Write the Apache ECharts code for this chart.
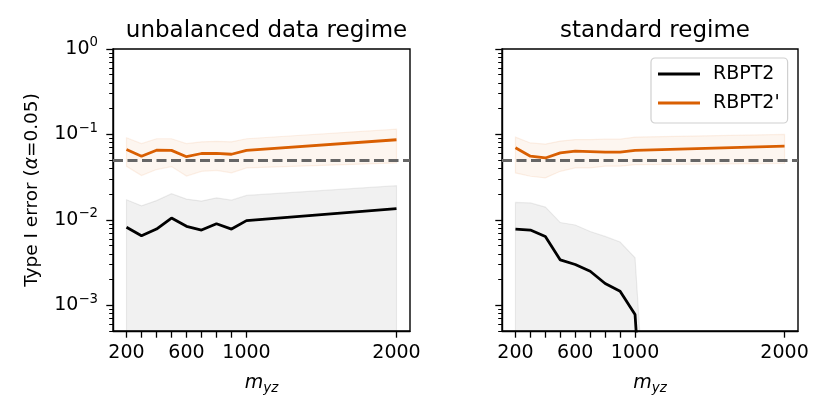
<!DOCTYPE html>
<html>
<head>
<meta charset="utf-8">
<script src="https://cdn.jsdelivr.net/npm/echarts@6/dist/echarts.min.js"></script>
<style>
  html, body { margin: 0; padding: 0; background: #fff; }
  #chart { width: 830px; height: 415px; }
</style>
</head>
<body>
<div id="chart"></div>
<script>
// m_yz sample sizes (x positions)
var mValues = [200, 300, 400, 500, 600, 700, 800, 900, 1000, 2000];
var xLabelValues = [200, 600, 1000, 2000];

// unbalanced data regime
var unbalRBPT2 = [0.0082, 0.0065, 0.0078, 0.0105, 0.0084, 0.0076, 0.009, 0.0078, 0.0098, 0.0135];
var unbalRBPT2Lo = [0, 0, 0, 0, 0, 0, 0, 0, 0, 0];
var unbalRBPT2Hi = [0.0172, 0.0146, 0.0168, 0.0202, 0.0175, 0.0166, 0.0181, 0.017, 0.0193, 0.0251];
var unbalRBPT2p = [0.0666, 0.0556, 0.0654, 0.065, 0.0548, 0.0598, 0.060, 0.0586, 0.065, 0.0866];
var unbalRBPT2pLo = [0.0423, 0.033, 0.0388, 0.042, 0.0326, 0.037, 0.038, 0.0355, 0.0405, 0.0464];
var unbalRBPT2pHi = [0.0914, 0.078, 0.089, 0.089, 0.078, 0.082, 0.083, 0.082, 0.089, 0.115];

// standard regime
var stdRBPT2 = [0.0078, 0.0076, 0.0064, 0.0034, 0.0030, 0.0025, 0.0018, 0.00146, 0.00078, 0];
var stdRBPT2Lo = [0, 0, 0, 0, 0, 0, 0, 0, 0, 0];
var stdRBPT2Hi = [0.016, 0.0158, 0.0141, 0.0093, 0.0087, 0.0073, 0.0064, 0.0055, 0.0036, 0];
var stdRBPT2p = [0.0697, 0.0556, 0.053, 0.0608, 0.0638, 0.063, 0.062, 0.062, 0.0649, 0.073];
var stdRBPT2pLo = [0.0354, 0.0324, 0.031, 0.037, 0.0405, 0.0405, 0.0425, 0.0425, 0.0443, 0.0457];
var stdRBPT2pHi = [0.093, 0.0795, 0.077, 0.0835, 0.087, 0.087, 0.088, 0.088, 0.093, 0.100];

var alphaLevel = 0.05;
var yLimits = [0.0005, 1];
var yMajorTicks = [0.001, 0.01, 0.1, 1];

var FONT = 'DejaVu Sans';
var ORANGE = '#d95f02';

// log10 with matplotlib-like clipping of non-positive values
function lg(v) { return v > 0 ? Math.log10(v) : -30; }

var yMinorTicks = [];
for (var e = -4; e < 0; e++) {
  for (var k = 2; k <= 9; k++) {
    var v = k * Math.pow(10, e);
    if (v >= yLimits[0] && v <= yLimits[1]) yMinorTicks.push(lg(v));
  }
}

function pairs(xs, ys) {
  return xs.map(function (x, i) { return [x, lg(ys[i])]; });
}

function bandSeries(name, lo, hi, fill, edge, xi, yi) {
  var rows = mValues.map(function (x, i) { return [x, lg(lo[i]), lg(hi[i])]; });
  return {
    type: 'custom',
    name: name + ' band',
    xAxisIndex: xi,
    yAxisIndex: yi,
    clip: true,
    silent: true,
    data: rows,
    encode: { x: 0, y: [1, 2] },
    z: 1,
    renderItem: function (params, api) {
      if (params.dataIndex !== 0) return;
      var pts = [];
      rows.forEach(function (r) { pts.push(api.coord([r[0], r[2]])); });
      for (var i = rows.length - 1; i >= 0; i--) pts.push(api.coord([rows[i][0], rows[i][1]]));
      return {
        type: 'polygon',
        shape: { points: pts },
        style: { fill: fill, stroke: edge, lineWidth: 1.2 }
      };
    }
  };
}

function lineSeries(name, ys, color, xi, yi, withAlpha) {
  var s = {
    type: 'line',
    name: name,
    xAxisIndex: xi,
    yAxisIndex: yi,
    data: pairs(mValues, ys),
    symbol: 'none',
    clip: true,
    z: 5,
    lineStyle: { color: color, width: 2.8 },
    itemStyle: { color: color }
  };
  if (withAlpha) {
    s.markLine = {
      silent: true,
      symbol: 'none',
      label: { show: false },
      lineStyle: { color: '#666', width: 2.9, type: [10, 4.5], opacity: 1 },
      data: [{ yAxis: lg(alphaLevel) }],
      z: 3
    };
  }
  return s;
}

var supMap = { '0': '0', '-1': '−1', '-2': '−2', '-3': '−3' };

function xAxisFor(gi) {
  return {
    type: 'value',
    gridIndex: gi,
    min: 110,
    max: 2090,
    name: '{i|m}{s|yz}',
    nameLocation: 'middle',
    nameGap: 41,
    nameTextStyle: {
      rich: {
        i: { fontFamily: FONT, fontStyle: 'italic', fontSize: 19, color: '#000' },
        s: { fontFamily: FONT, fontStyle: 'italic', fontSize: 13.5, color: '#000', padding: [9, 0, 0, 0] }
      }
    },
    splitLine: { show: false },
    axisLine: { onZero: false, lineStyle: { color: '#000', width: 1.4 } },
    axisTick: { length: 6.7, lineStyle: { color: '#000', width: 1.3 }, customValues: mValues },
    axisLabel: {
      customValues: xLabelValues,
      formatter: function (v) { return String(v); },
      color: '#000',
      fontFamily: FONT,
      fontSize: 19,
      margin: 13
    }
  };
}

function yAxesFor(gi, showLabels) {
  var major = {
    type: 'value',
    gridIndex: gi,
    min: lg(yLimits[0]),
    max: lg(yLimits[1]),
    splitLine: { show: false },
    axisLine: { lineStyle: { color: '#000', width: 1.4 } },
    axisTick: { length: 6.7, lineStyle: { color: '#000', width: 1.3 }, customValues: yMajorTicks.map(lg) },
    axisLabel: {
      show: showLabels,
      customValues: yMajorTicks.map(lg),
      margin: 15,
      formatter: function (v) {
        return '{b|10}{s|' + supMap[String(Math.round(v))] + '}';
      },
      rich: {
        b: { fontFamily: FONT, fontSize: 19, color: '#000' },
        s: { fontFamily: FONT, fontSize: 13.3, color: '#000', padding: [0, 0, 12, 0] }
      }
    }
  };
  if (showLabels) {
    major.name = '{t|Type I error (}{a|α}{t|=0.05)}';
    major.nameLocation = 'middle';
    major.nameGap = 71;
    major.nameTextStyle = {
      rich: {
        t: { fontFamily: FONT, fontSize: 18.5, color: '#000' },
        a: { fontFamily: FONT, fontStyle: 'italic', fontSize: 18.5, color: '#000' }
      }
    };
  }
  var minor = {
    type: 'value',
    gridIndex: gi,
    position: 'left',
    min: lg(yLimits[0]),
    max: lg(yLimits[1]),
    splitLine: { show: false },
    axisLine: { show: false },
    axisTick: { length: 3.8, lineStyle: { color: '#000', width: 1 }, customValues: yMinorTicks },
    axisLabel: { show: false }
  };
  return [major, minor];
}

var chart = echarts.init(document.getElementById('chart'), null, { renderer: 'canvas' });

var yAxes = yAxesFor(0, true).concat(yAxesFor(1, false));

var option = {
  backgroundColor: '#fff',
  animation: false,
  textStyle: { fontFamily: FONT },
  title: [
    { text: 'unbalanced data regime', left: 261.5, top: 15, textAlign: 'center',
      textStyle: { fontFamily: FONT, fontWeight: 'normal', fontSize: 23, color: '#000' } },
    { text: 'standard regime', left: 650, top: 15, textAlign: 'center',
      textStyle: { fontFamily: FONT, fontWeight: 'normal', fontSize: 23, color: '#000' } }
  ],
  legend: {
    data: ['RBPT2', "RBPT2'"],
    orient: 'vertical',
    left: 651,
    top: 58,
    icon: 'rect',
    itemWidth: 42,
    itemHeight: 2.8,
    itemGap: 9,
    padding: [6, 8, 10, 7],
    borderColor: '#d0d0d0',
    borderWidth: 1.2,
    borderRadius: 4,
    backgroundColor: 'rgba(255,255,255,0.85)',
    textStyle: { fontFamily: FONT, fontSize: 19, lineHeight: 20, color: '#000', padding: [0, 0, 0, 8] }
  },
  grid: [
    { left: 113, top: 49, width: 297, height: 282, show: true, borderColor: '#000', borderWidth: 1.4, backgroundColor: 'transparent' },
    { left: 502, top: 49, width: 296, height: 282, show: true, borderColor: '#000', borderWidth: 1.4, backgroundColor: 'transparent' }
  ],
  xAxis: [xAxisFor(0), xAxisFor(1)],
  yAxis: yAxes,
  series: [
    bandSeries('RBPT2', unbalRBPT2Lo, unbalRBPT2Hi, 'rgba(0,0,0,0.055)', 'rgba(0,0,0,0.07)', 0, 0),
    bandSeries("RBPT2'", unbalRBPT2pLo, unbalRBPT2pHi, 'rgba(217,95,2,0.06)', 'rgba(217,95,2,0.09)', 0, 0),
    lineSeries('RBPT2', unbalRBPT2, '#000', 0, 0, true),
    lineSeries("RBPT2'", unbalRBPT2p, ORANGE, 0, 0, false),
    bandSeries('RBPT2', stdRBPT2Lo, stdRBPT2Hi, 'rgba(0,0,0,0.055)', 'rgba(0,0,0,0.07)', 1, 2),
    bandSeries("RBPT2'", stdRBPT2pLo, stdRBPT2pHi, 'rgba(217,95,2,0.06)', 'rgba(217,95,2,0.09)', 1, 2),
    lineSeries('RBPT2', stdRBPT2, '#000', 1, 2, true),
    lineSeries("RBPT2'", stdRBPT2p, ORANGE, 1, 2, false)
  ]
};

chart.setOption(option);
</script>
</body>
</html>
